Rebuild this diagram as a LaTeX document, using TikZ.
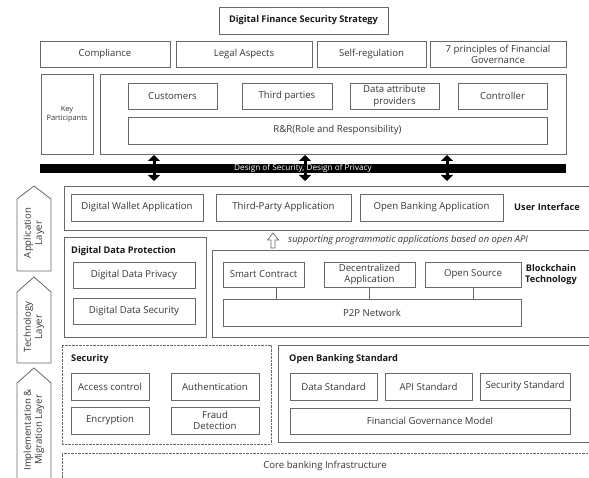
\documentclass[tikz,border=0pt]{standalone}
\usepackage{fontspec}
\setmainfont{Open Sans}
\usetikzlibrary{arrows.meta}

\definecolor{lineg}{RGB}{105,105,105}
\definecolor{txt}{RGB}{55,55,55}
\definecolor{hdr}{RGB}{25,25,25}

\tikzset{
  box/.style={draw=lineg, line width=0.8pt, inner sep=1pt, outer sep=0pt,
              align=center, text=txt, font=\fontsize{9.6}{11.2}\selectfont},
  dotbox/.style={box, draw=lineg, line width=0.6pt, dash pattern=on 0.7pt off 0.7pt},
  header/.style={inner sep=0pt, text=hdr, font=\bfseries\fontsize{9.2}{11}\selectfont, align=left},
  layershape/.style={draw=lineg, line width=0.8pt, fill=white},
  layerlabel/.style={inner sep=0pt, text=txt, align=center, rotate=90,
                     font=\fontsize{9.6}{11}\selectfont},
  conn/.style={draw=lineg, line width=0.8pt},
  dblarrow/.style={line width=3pt, black,
                   {Triangle[width=12pt,length=6pt]}-{Triangle[width=12pt,length=6pt]}},
}

% \bx[style]{name}{x1}{y1}{x2}{y2}{text}: box spanning the given corners
\newcommand{\bx}[7][]{%
  \node[box,#1,minimum width={#5pt-#3pt},minimum height={#6pt-#4pt}]
    (#2) at ({(#3+#5)/2},{(#4+#6)/2}) {#7};}

\begin{document}
\begin{tikzpicture}[x=1pt,y=-1pt]
\useasboundingbox (0,0) rectangle (589,478);
\fill[white] (0,0) rectangle (589,478);
\clip (0,0) rectangle (589,478);

% ---- strategy header and framework row ----
\bx[font=\bfseries\fontsize{9.2}{11}\selectfont, text=hdr]{title}{219}{7}{388}{34}{Digital Finance Security Strategy}
\bx{compl}{40}{41}{170}{67}{Compliance}
\bx{legal}{176}{41}{312}{67}{Legal Aspects}
\bx{selfreg}{317}{41}{426}{67}{Self-regulation}
\bx{seven}{430}{41}{566}{67}{7 principles of Financial\\Governance}

% ---- key participants ----
\bx[font=\fontsize{7.4}{9}\selectfont]{keyp}{41}{74}{93}{154}{Key\\Participants}
\bx{parts}{100}{74}{566}{154}{}
\bx{cust}{128}{83}{217}{109}{Customers}
\bx{third}{242}{83}{332}{109}{Third parties}
\bx{dap}{350}{83}{439}{109}{Data attribute\\providers}
\bx{ctrl}{458}{83}{547}{109}{Controller}
\bx{rr}{128}{117}{547}{144}{R\&R(Role and Responsibility)}

% ---- design bar with two-way arrows ----
\node[fill=black, minimum width=526pt, minimum height=9pt, inner sep=0pt,
      text=white, font=\fontsize{8.2}{8.2}\selectfont] (bar) at (303,168.5)
      {Design of Security, Design of Privacy};

% ---- application layer ----
\bx{uibox}{64}{186}{600}{230}{}
\bx{dwa}{71}{194}{203}{221}{Digital Wallet Application}
\bx{tpa}{216}{194}{351}{221}{Third-Party Application}
\bx{oba}{360}{194}{503}{221}{Open Banking Application}
\node[header] (uilab) at (547,207) {User Interface};

\coordinate (a1) at (154,0);
\coordinate (a2) at (305,0);
\coordinate (a3) at (447,0);
\foreach \a in {a1,a2,a3}
  \draw[dblarrow, shorten <=1pt, shorten >=5pt] (parts.south -| \a) -- (uibox.north -| \a);

% hollow arrow and caption
\draw[lineg, line width=0.7pt, fill=white]
  (273,233) -- (278.5,240) -- (275,240) -- (275,248) -- (271,248) -- (271,240) -- (267.5,240) -- cycle;
\node[anchor=west, inner sep=0pt, text=txt, font=\itshape\fontsize{9.4}{11}\selectfont] (apinote)
  at (288,240.5) {supporting programmatic applications based on open API};

% ---- technology layer ----
\bx{ddp}{64}{237}{206}{337}{}
\node[header, anchor=west] (ddplab) at (71,251) {Digital Data Protection};
\bx{ddpriv}{73}{262}{195}{288}{Digital Data Privacy}
\bx{ddsec}{73}{298}{195}{324}{Digital Data Security}

\bx{bcbox}{212}{250}{600}{337}{}
\bx{sc}{223}{262}{304}{287}{Smart Contract}
\bx{dapp}{324}{262}{415}{287}{Decentralized\\Application}
\bx{os}{425}{262}{521}{287}{Open Source}
\bx{p2p}{223}{299}{521}{326}{P2P Network}
\node[header, align=center] (bclab) at (551,275) {Blockchain\\Technology};
\coordinate (c1) at (276,0);
\draw[conn] (sc.south -| c1) -- (p2p.north -| c1);
\draw[conn] (dapp.south) -- (p2p.north -| dapp.south);
\draw[conn] (os.south) -- (p2p.north -| os.south);

% ---- implementation & migration layer ----
\bx[dotbox]{secbox}{62}{345}{271}{444}{}
\node[header, anchor=west] (seclab) at (71,359) {Security};
\bx{acc}{71}{373}{149}{400}{Access control}
\bx{auth}{171}{373}{259}{400}{Authentication}
\bx{enc}{71}{407}{149}{434}{Encryption}
\bx{fraud}{171}{407}{259}{434}{Fraud\\Detection}

\bx{obs}{278}{345}{600}{442}{}
\node[header, anchor=west] (obslab) at (289,359) {Open Banking Standard};
\bx{dstd}{290}{373}{377}{400}{Data Standard}
\bx{apistd}{385}{373}{472}{400}{API Standard}
\bx{secstd}{480}{373}{570}{400}{Security Standard}
\bx{fgm}{290}{408}{570}{434}{Financial Governance Model}

\bx[dotbox]{core}{62}{453}{600}{495}{}
\node[inner sep=0pt, text=txt, font=\fontsize{9.6}{11}\selectfont] (corelab) at (325,466)
  {Core banking Infrastructure};

% ---- layer markers on the left ----
\draw[layershape] (17,271) -- (17,199) -- (34,186) -- (51,199) -- (51,271) -- cycle;
\node[layerlabel] (applayer) at (34,233) {Application\\Layer};
\draw[layershape] (17,363) -- (17,292) -- (34,277) -- (51,292) -- (51,363) -- cycle;
\node[layerlabel] (techlayer) at (34,327) {Technology\\Layer};
\draw[layershape] (17,495) -- (17,383) -- (34,368) -- (51,383) -- (51,495) -- cycle;
\node[layerlabel] (impllayer) at (34,430) {Implementation \&\\Migration Layer};
\end{tikzpicture}
\end{document}
